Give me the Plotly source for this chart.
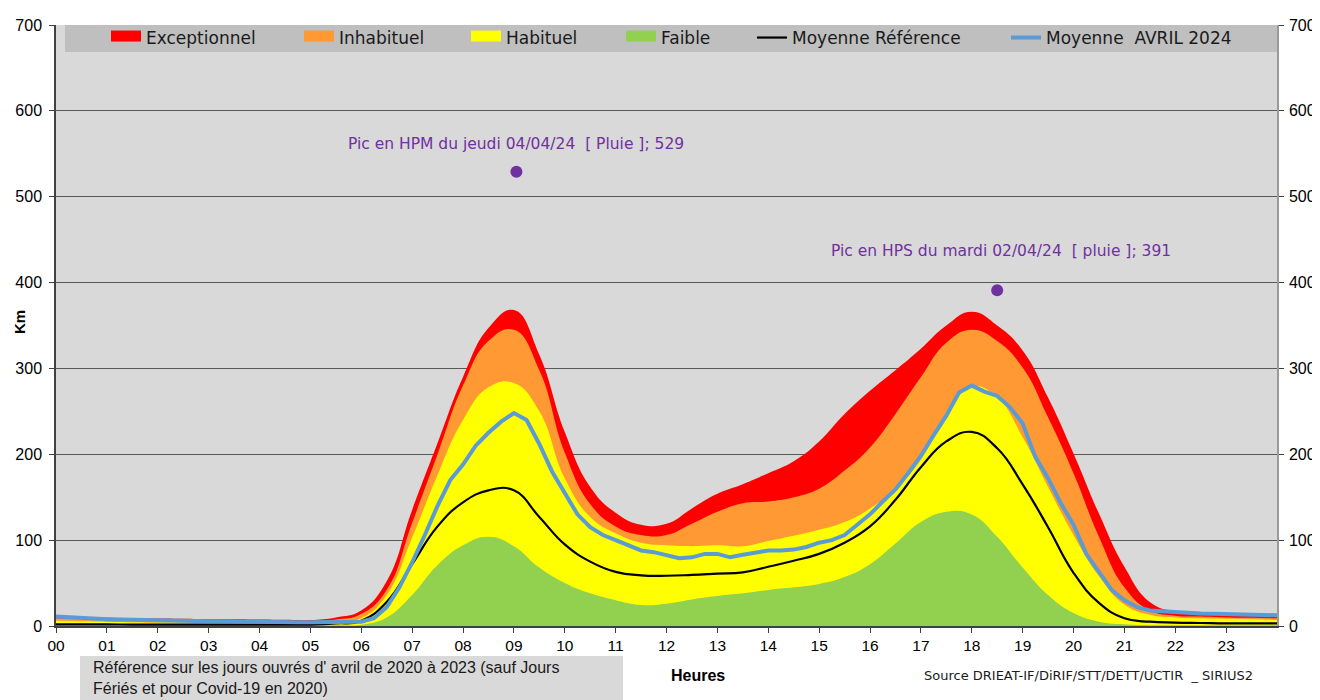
import plotly.graph_objects as go

# ---------------- data ----------------
hours = [i * 0.5 for i in range(49)]  # 00:00 .. 24:00, half-hour steps

exceptionnel = [11, 10, 9.5, 9, 8.7, 8.4, 8, 7.8, 7.5, 7.2, 7, 10,
                18, 52, 135, 213, 290, 347, 368, 316, 226, 162, 132, 118,
                119, 137, 154, 165, 178, 192, 215, 247, 274, 298, 323, 350,
                366, 350, 321, 266, 201, 131, 69, 28, 17, 15.5, 15, 14.5, 14]

inhabituel = [9, 8.5, 8, 7.5, 7, 6.8, 6.5, 6.2, 6, 5.8, 5.5, 7.5,
              14, 42, 120, 200, 280, 332, 345, 298, 202, 142, 116, 106,
              106, 119, 133, 143, 145, 150, 160, 181, 208, 247, 290, 330,
              345, 332, 301, 243, 178, 104, 45, 18, 12, 11, 10, 9.5, 9]

habituel = [6, 5.5, 5, 4.5, 4.2, 4, 3.8, 3.6, 3.5, 3.4, 3.3, 4,
            9, 36, 103, 176, 240, 278, 283, 250, 172, 127, 108, 97,
            94, 93, 94, 93, 99, 105, 112, 121, 137, 160, 194, 247,
            279, 266, 220, 162, 106, 58, 25, 13, 10, 9, 8.5, 8, 7]

faible = [1, 1, 1, 1, 1, 1, 1, 1, 1, 1, 1, 1,
          1.5, 10, 36, 71, 94, 104, 93, 68, 50, 38, 30, 24.5,
          26, 31, 35, 38, 42, 45, 49, 57, 72, 96, 121, 133,
          130, 104, 68, 36, 15, 5, 2, 1, 1, 1, 1, 1, 1]

moyenne_reference = [2, 2, 1.8, 1.7, 1.6, 1.5, 1.5, 1.5, 1.5, 1.5, 1.6, 3,
                     6, 28, 72, 116, 144, 158, 158, 127, 95, 75, 63, 59,
                     58.5, 59.5, 61, 62.5, 69, 76, 84, 97, 116, 147, 185, 215,
                     226, 207, 165, 115, 62, 27, 9, 5, 4, 3.5, 3, 3, 3]

avril_hours = [i * 0.25 for i in range(97)]  # quarter-hour steps
moyenne_avril = [11, 10, 9, 8.5, 8, 7.5, 7, 6.8, 6.5, 6.2, 6, 5.8,
                 5.5, 5.3, 5.2, 5, 5, 4.8, 4.6, 4.5, 4.4, 4.3, 4.2, 4.2,
                 5, 9, 22, 45, 74, 106, 140, 170, 188, 210, 225, 238,
                 248, 240, 212, 180, 154, 130, 115, 106, 100, 94, 88, 86,
                 83, 79, 80, 84, 84, 80, 83, 86, 88, 88, 89, 92,
                 97, 100, 106, 118, 130, 145, 159, 178, 198, 222, 245, 272,
                 280, 273, 268, 255, 236, 197, 172, 143, 118, 84, 62, 42,
                 30, 22, 18, 17, 16, 15, 14.7, 14.4, 14, 14, 13.5, 13, 12.5]

peak_hours = [9.05, 18.5]
peak_values = [529, 391]
peak_labels = ["Pic en HPM du jeudi 04/04/24 \u00a0[ Pluie ]; 529",
               "Pic en HPS du mardi 02/04/24 \u00a0[ pluie ]; 391"]

tick_hours = list(range(24))
tick_labels = ["%02d" % h for h in tick_hours]

band_names = ["Exceptionnel", "Inhabituel", "Habituel", "Faible"]
band_values = [exceptionnel, inhabituel, habituel, faible]
band_colors = ["#ff0000", "#ff9933", "#ffff00", "#92d050"]

# ---------------- geometry (page pixels -> paper fractions) ----------------
OFF = 8  # the html body margin shifts the figure by 8px
L, R, T, B = 48, 43, 17, 74
W, H = 1312, 692
PW, PH = W - L - R, H - T - B   # plot area: page x 56..1277, y 25..626


def px(x):
    return (x - OFF - L) / PW


def py(y):
    return (H - B - (y - OFF)) / PH


TXT = "DejaVu Sans"
ARIAL = "Liberation Sans, Arial"

fig = go.Figure()

# bands (drawn from the top band down)
for name, vals, col in zip(band_names, band_values, band_colors):
    fig.add_trace(go.Scatter(
        x=hours, y=vals, mode="lines", name=name,
        line=dict(width=0, shape="spline", smoothing=1.3, color=col),
        fill="tozeroy", fillcolor=col, showlegend=False,
        hoverinfo="x+y+name"))

# legend entries (one legend per entry so each sits where it should)
legend_text_x = [146, 339, 506, 661]
for i, (name, col) in enumerate(zip(band_names, band_colors)):
    fig.add_trace(go.Scatter(
        x=[None], y=[None], mode="lines", name=name,
        line=dict(width=10, color=col), fill="tozeroy", fillcolor=col,
        legend="legend" if i == 0 else "legend%d" % (i + 1)))

fig.add_trace(go.Scatter(
    x=hours, y=moyenne_reference, mode="lines", name="Moyenne Référence",
    line=dict(color="black", width=2.2, shape="spline", smoothing=1.3),
    legend="legend5"))

fig.add_trace(go.Scatter(
    x=avril_hours, y=moyenne_avril, mode="lines",
    name="Moyenne\u00a0 AVRIL 2024",
    line=dict(color="#5b9bd5", width=4),
    legend="legend6"))

fig.add_trace(go.Scatter(
    x=peak_hours, y=peak_values, mode="markers", yaxis="y2",
    marker=dict(color="#7030a0", size=12), showlegend=False,
    hovertext=peak_labels, hoverinfo="text"))

legend_text_px = legend_text_x + [792, 1046]
legend_font = dict(family=TXT, size=17, color="#1a1a1a")
leg_common = dict(orientation="h", xanchor="left", yanchor="middle",
                  y=py(38), bgcolor="rgba(0,0,0,0)", borderwidth=0,
                  font=legend_font, itemclick=False, itemdoubleclick=False)
legends = {}
for i, tx in enumerate(legend_text_px):
    key = "legend" if i == 0 else "legend%d" % (i + 1)
    legends[key] = dict(leg_common, x=px(tx - 40))

annotations = []
shifts = [(0, 28), (4, 39)]
for hx, vy, lab, (xs, ys) in zip(peak_hours, peak_values, peak_labels, shifts):
    annotations.append(dict(
        x=hx, y=vy, xref="x", yref="y", text=lab, showarrow=False,
        xshift=xs, yshift=ys, font=dict(family=TXT, size=15.5, color="#7030a0")))

annotations += [
    dict(x=px(91), y=py(657), xref="paper", yref="paper", xanchor="left",
         yanchor="top", align="left", showarrow=False,
         text="Référence sur les jours ouvrés d' avril de 2020 à 2023 (sauf Jours<br>"
              "Fériés et pour Covid-19 en 2020)",
         font=dict(family=ARIAL, size=16, color="#1a1a1a")),
    dict(x=px(698), y=py(675), xref="paper", yref="paper", xanchor="center",
         yanchor="middle", showarrow=False, text="<b>Heures</b>",
         font=dict(family=ARIAL, size=16, color="black")),
    dict(x=px(1088), y=py(675), xref="paper", yref="paper", xanchor="center",
         yanchor="middle", showarrow=False,
         text="Source DRIEAT-IF/DiRIF/STT/DETT/UCTIR \u00a0_ SIRIUS2",
         font=dict(family=TXT, size=13, color="#1a1a1a")),
    dict(x=px(19), y=py(322), xref="paper", yref="paper", xanchor="center",
         yanchor="middle", showarrow=False, text="<b>Km</b>", textangle=-90,
         font=dict(family=ARIAL, size=15, color="black")),
]

shapes = [
    dict(type="rect", xref="paper", yref="paper", x0=px(65), x1=px(1277),
         y0=py(52), y1=py(25), fillcolor="#bfbfbf", line=dict(width=0),
         layer="above"),
    dict(type="rect", xref="paper", yref="paper", x0=px(80), x1=px(623),
         y0=py(656), y1=py(705), fillcolor="#d9d9d9", line=dict(width=0),
         layer="above"),
]

axis_font = dict(family=ARIAL, size=16, color="black")
fig.update_layout(
    width=W, height=H,
    margin=dict(l=L, r=R, t=T, b=B, pad=0, autoexpand=False),
    paper_bgcolor="white", plot_bgcolor="#d9d9d9",
    showlegend=True,
    xaxis=dict(range=[0, 24], tickmode="array", tickvals=tick_hours,
               ticktext=tick_labels, ticks="outside", ticklen=5,
               tickcolor="#404040", showline=True, linecolor="#404040",
               linewidth=1.5, showgrid=False, zeroline=False,
               automargin=False,
               tickfont=dict(family=ARIAL, size=15.5, color="black")),
    yaxis=dict(range=[0, 700], dtick=100, ticks="outside", ticklen=5,
               tickcolor="#404040", showline=True, linecolor="#404040",
               linewidth=1.5, showgrid=True, gridcolor="#595959",
               gridwidth=1.3, zeroline=False, tickfont=axis_font,
               ticklabelstandoff=4, automargin=False),
    yaxis2=dict(range=[0, 700], dtick=100, overlaying="y", side="right",
                ticks="outside", ticklen=5, tickcolor="#404040",
                showline=True, linecolor="#9a9a9a", linewidth=1.5,
                showgrid=False, zeroline=False, tickfont=axis_font,
                ticklabelstandoff=2, automargin=False),
    annotations=annotations,
    shapes=shapes,
    **legends,
)

fig.write_html("out.html")
